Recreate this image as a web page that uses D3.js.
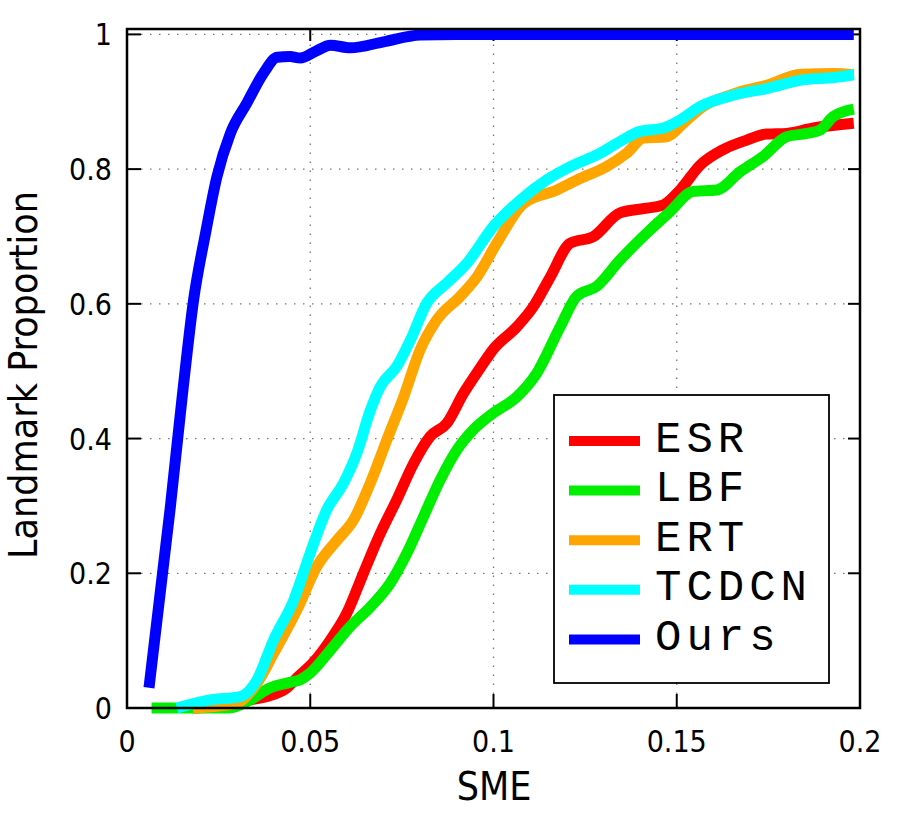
<!DOCTYPE html>
<html>
<head>
<meta charset="utf-8">
<script src="https://cdn.jsdelivr.net/npm/d3@7"></script>
<style>
  body { margin: 0; background: #fff; }
  svg { display: block; }
  .tick-label { font-family: "DejaVu Sans Condensed", "DejaVu Sans", sans-serif; font-stretch: condensed; font-size: 30px; fill: #000; }
  .axis-title { font-family: "DejaVu Sans Condensed", "DejaVu Sans", sans-serif; font-stretch: condensed; font-size: 39px; fill: #000; }
  .legend-label { font-family: "Liberation Mono", "Courier New", monospace; font-size: 44px; letter-spacing: 5px; fill: #000; }
</style>
</head>
<body>
<svg id="chart"></svg>
<script>
// Data: [SME, landmark proportion]

const esr = [[0.018, 0], [0.028, 0.004], [0.0336, 0.012], [0.04, 0.02], [0.0436, 0.03], [0.0464, 0.045],
  [0.0509, 0.068], [0.0555, 0.101], [0.06, 0.141], [0.0645, 0.2], [0.0691, 0.259], [0.0736, 0.309],
  [0.0782, 0.363], [0.0827, 0.403], [0.0873, 0.423], [0.0918, 0.467], [0.0964, 0.505], [0.1, 0.533],
  [0.1064, 0.566], [0.1109, 0.596], [0.1155, 0.64], [0.1209, 0.69], [0.1273, 0.7], [0.1345, 0.735],
  [0.1418, 0.742], [0.1464, 0.747], [0.1509, 0.769], [0.1564, 0.806], [0.1627, 0.829], [0.1691, 0.843],
  [0.1745, 0.852], [0.18, 0.853], [0.1873, 0.861], [0.1983, 0.868]];

const lbf = [[0.0067, 0], [0.028, 0], [0.0336, 0.012], [0.0391, 0.03], [0.0445, 0.038], [0.0473, 0.042],
  [0.05, 0.052], [0.0555, 0.086], [0.0609, 0.121], [0.0664, 0.15], [0.0718, 0.185], [0.0764, 0.23],
  [0.0809, 0.284], [0.0855, 0.339], [0.09, 0.383], [0.0945, 0.413], [0.1, 0.438], [0.1064, 0.462],
  [0.1118, 0.497], [0.1182, 0.566], [0.1227, 0.611], [0.1282, 0.626], [0.1345, 0.665], [0.1418, 0.705],
  [0.1482, 0.737], [0.1545, 0.767], [0.1609, 0.769], [0.1673, 0.796], [0.1736, 0.819], [0.18, 0.848],
  [0.1855, 0.853], [0.1891, 0.858], [0.1927, 0.878], [0.1983, 0.889]];

const ert = [[0.018, 0], [0.025, 0.003], [0.03, 0.007], [0.0355, 0.037], [0.04, 0.081], [0.0464, 0.146],
  [0.0518, 0.21], [0.0573, 0.249], [0.0618, 0.279], [0.0664, 0.334], [0.0709, 0.398], [0.0755, 0.462],
  [0.08, 0.532], [0.0845, 0.576], [0.0909, 0.611], [0.0955, 0.64], [0.1009, 0.69], [0.1082, 0.749],
  [0.1173, 0.769], [0.1236, 0.786], [0.1309, 0.804], [0.1364, 0.824], [0.1409, 0.846], [0.1473, 0.848],
  [0.1518, 0.868], [0.1564, 0.89], [0.1657, 0.912], [0.1748, 0.925], [0.1839, 0.941], [0.193, 0.942],
  [0.1983, 0.94]];

const tcdcn = [[0.0136, 0], [0.0227, 0.012], [0.0309, 0.017], [0.0355, 0.042], [0.04, 0.101], [0.0455, 0.16],
  [0.05, 0.23], [0.0545, 0.294], [0.0591, 0.334], [0.0627, 0.378], [0.0664, 0.442], [0.0691, 0.477],
  [0.0736, 0.507], [0.0773, 0.546], [0.0818, 0.601], [0.0873, 0.631], [0.0927, 0.66], [0.1, 0.715],
  [0.1073, 0.754], [0.1145, 0.784], [0.1218, 0.806], [0.1282, 0.821], [0.1345, 0.841], [0.14, 0.856],
  [0.1464, 0.861], [0.1509, 0.873], [0.1564, 0.893], [0.1657, 0.91], [0.1748, 0.92], [0.1839, 0.932],
  [0.193, 0.936], [0.1983, 0.94]];

const ours = [[0.006, 0.03], [0.0118, 0.297], [0.015, 0.459], [0.0182, 0.607], [0.0214, 0.704],
  [0.0245, 0.788], [0.0282, 0.853], [0.0327, 0.898], [0.0373, 0.943], [0.041, 0.966], [0.0445, 0.967],
  [0.0473, 0.965], [0.0515, 0.975], [0.0555, 0.984], [0.061, 0.98], [0.07, 0.989], [0.08, 0.999],
  [0.09, 1], [0.1983, 1]];

const methods = ['ESR', 'LBF', 'ERT', 'TCDCN', 'Ours'];
const colors = ['#ff0000', '#00ee00', '#ffa500', '#00ffff', '#0000ff'];
const seriesData = [esr, lbf, ert, tcdcn, ours];

const xTicks = [0, 0.05, 0.1, 0.15, 0.2];
const yTicks = [0, 0.2, 0.4, 0.6, 0.8, 1];
const xLabels = ['0', '0.05', '0.1', '0.15', '0.2'];
const yLabels = ['0', '0.2', '0.4', '0.6', '0.8', '1'];

const width = 905;
const height = 815;

const svg = d3.select('#chart').attr('width', width).attr('height', height);

const x = d3.scaleLinear().domain([0, 0.2]).range([127, 860]);
const y = d3.scaleLinear().domain([0, 1.008]).range([708, 29]);

const [plotLeft, plotRight] = x.range();
const [plotBottom, plotTop] = y.range();

// Dotted grid

const grid = svg.append('g')
  .attr('stroke', '#777')
  .attr('stroke-width', 1.3)
  .attr('stroke-dasharray', '1.5,7.5');

grid.selectAll('.gx')
  .data(xTicks.slice(1, -1))
  .join('line')
  .attr('x1', d => x(d)).attr('x2', d => x(d))
  .attr('y1', plotBottom - 14).attr('y2', plotTop + 12);

grid.selectAll('.gy')
  .data(yTicks.slice(1))
  .join('line')
  .attr('x1', plotLeft + 14).attr('x2', plotRight - 12)
  .attr('y1', d => y(d)).attr('y2', d => y(d));

// Ticks, mirrored on all four sides, pointing inward

const ticks = svg.append('g').attr('stroke', '#000').attr('stroke-width', 2);

xTicks.forEach(t => {
  ticks.append('line').attr('x1', x(t)).attr('x2', x(t)).attr('y1', plotBottom).attr('y2', plotBottom - 14);
  ticks.append('line').attr('x1', x(t)).attr('x2', x(t)).attr('y1', plotTop).attr('y2', plotTop + 12);
});
yTicks.forEach(t => {
  ticks.append('line').attr('x1', plotLeft).attr('x2', plotLeft + 14).attr('y1', y(t)).attr('y2', y(t));
  ticks.append('line').attr('x1', plotRight).attr('x2', plotRight - 12).attr('y1', y(t)).attr('y2', y(t));
});

// Tick labels

svg.append('g').selectAll('text')
  .data(xTicks)
  .join('text')
  .attr('class', 'tick-label')
  .attr('x', d => x(d))
  .attr('y', 752)
  .attr('text-anchor', 'middle')
  .text((d, i) => xLabels[i]);

svg.append('g').selectAll('text')
  .data(yTicks)
  .join('text')
  .attr('class', 'tick-label')
  .attr('x', 112)
  .attr('y', d => y(d) + 11)
  .attr('text-anchor', 'end')
  .text((d, i) => yLabels[i]);

// Axis titles

svg.append('text')
  .attr('class', 'axis-title')
  .attr('x', 494)
  .attr('y', 800)
  .attr('text-anchor', 'middle')
  .text('SME');

svg.append('text')
  .attr('class', 'axis-title')
  .attr('transform', 'translate(37, 375) rotate(-90)')
  .attr('text-anchor', 'middle')
  .text('Landmark Proportion');

// Curves

const line = d3.line()
  .x(d => x(d[0]))
  .y(d => y(d[1]))
  .curve(d3.curveMonotoneX);

svg.append('g').selectAll('path')
  .data(seriesData)
  .join('path')
  .attr('d', line)
  .attr('fill', 'none')
  .attr('stroke', (d, i) => colors[i])
  .attr('stroke-width', 11)
  .attr('stroke-linejoin', 'round');

// Frame

svg.append('rect')
  .attr('x', plotLeft).attr('y', plotTop)
  .attr('width', plotRight - plotLeft).attr('height', plotBottom - plotTop)
  .attr('fill', 'none')
  .attr('stroke', '#000')
  .attr('stroke-width', 2.5);

// Legend

const legend = svg.append('g');

legend.append('rect')
  .attr('x', 554).attr('y', 395)
  .attr('width', 275).attr('height', 288)
  .attr('fill', '#fff')
  .attr('stroke', '#000')
  .attr('stroke-width', 1.8);

const rowY = i => 441 + i * 49.6;

legend.selectAll('line')
  .data(methods)
  .join('line')
  .attr('x1', 569).attr('x2', 640)
  .attr('y1', (d, i) => rowY(i)).attr('y2', (d, i) => rowY(i))
  .attr('stroke', (d, i) => colors[i])
  .attr('stroke-width', 10);

legend.selectAll('text')
  .data(methods)
  .join('text')
  .attr('class', 'legend-label')
  .attr('x', 655)
  .attr('y', (d, i) => rowY(i) + 10.5)
  .text(d => d);
</script>
</body>
</html>
